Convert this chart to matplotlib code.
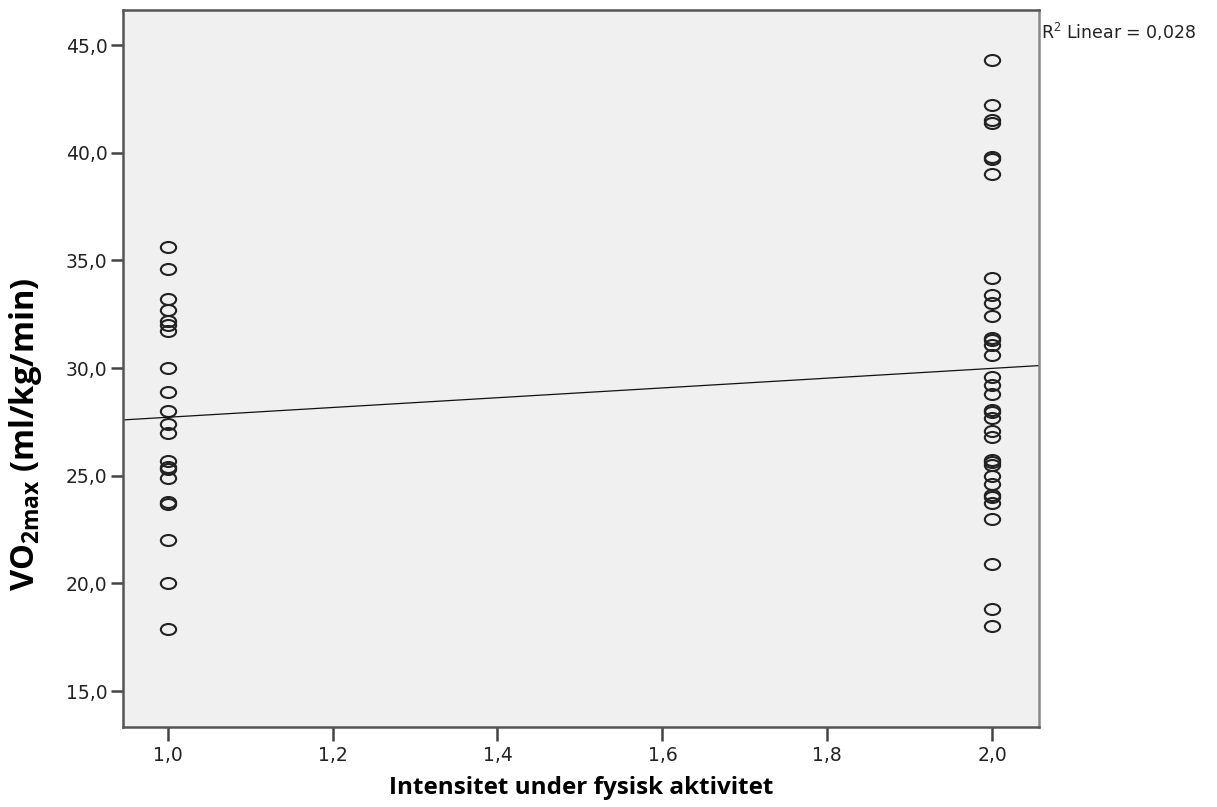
import numpy as np
import matplotlib
matplotlib.use("Agg")
import matplotlib.pyplot as plt
from matplotlib.path import Path
from matplotlib.transforms import Affine2D

plt.rcParams['mathtext.fontset'] = 'custom'
plt.rcParams['mathtext.rm'] = 'Open Sans'
plt.rcParams['mathtext.bf'] = 'Open Sans:bold'

# gruppe 1 og 2 (intensitet)
vo2_gr1 = [35.6, 34.6, 33.2, 32.7, 32.2, 32.0, 31.7, 30.0, 28.9, 28.0, 27.4, 27.0,
           25.7, 25.4, 25.3, 24.9, 23.8, 23.7, 22.0, 20.0, 17.9]
vo2_gr2 = [44.3, 42.2, 41.5, 41.4, 39.8, 39.7, 39.0, 34.2, 33.4, 33.0, 32.4, 31.4,
           31.3, 31.05, 30.6, 29.6, 29.2, 28.8, 28.05, 27.95, 27.7, 27.1, 26.8,
           25.75, 25.65, 25.5, 25.0, 24.6, 24.1, 24.0, 23.75, 23.0, 20.9, 18.8, 18.0]
xticks = [1.0, 1.2, 1.4, 1.6, 1.8, 2.0]
yticks = [15.0, 20.0, 25.0, 30.0, 35.0, 40.0, 45.0]

x = np.array([1.0]*len(vo2_gr1) + [2.0]*len(vo2_gr2))
y = np.array(vo2_gr1 + vo2_gr2)
b, a = np.polyfit(x, y, 1)

fig = plt.figure(figsize=(12.17, 8.07), dpi=100)
ax = fig.add_axes([0.1008, 0.0991, 0.7532, 0.8891])
ax.set_facecolor('#f0f0f0')

ellipse = Path.unit_circle().transformed(Affine2D().scale(1, 0.72))
ax.plot(x, y, linestyle='none', marker=ellipse, markersize=11,
        markerfacecolor='none', markeredgecolor='#222222', markeredgewidth=1.5)

xl = np.array([0.9455, 2.057])
ax.plot(xl, a + b*xl, color='#111111', lw=0.9)

ax.set_xlim(0.9455, 2.057)
ax.set_ylim(13.33, 46.65)
ax.set_xticks(xticks)
ax.set_xticklabels([f"{t:.1f}".replace('.', ',') for t in xticks])
ax.set_yticks(yticks)
ax.set_yticklabels([f"{t:.1f}".replace('.', ',') for t in yticks])
ax.tick_params(axis='both', direction='out', color='#444444', width=1.8,
               labelsize=13.5, labelcolor='#222222')
ax.tick_params(axis='y', length=9, pad=2)
ax.tick_params(axis='x', length=10, pad=4)
for s in ax.spines.values():
    s.set_color('#555555')
    s.set_linewidth(1.8)
ax.spines['right'].set_color('#888888')

fig.text(0.4774, 0.0165, 'Intensitet under fysisk aktivitet', fontfamily='Open Sans',
         fontweight='bold', fontsize=17.5, ha='center', va='baseline')
fig.text(0.021, 0.462, r'VO$_{\mathbf{2max}}$ (ml/kg/min)', fontfamily='Open Sans',
         fontweight='bold', fontsize=23.5, rotation=90, ha='center', va='center')

ax.text(1.002, 0.985, 'R$^2$ Linear = 0,028', transform=ax.transAxes,
        ha='left', va='top', fontsize=12.5, color='#222222',
        fontfamily='DejaVu Sans')

fig.savefig('out.png', dpi=100)
